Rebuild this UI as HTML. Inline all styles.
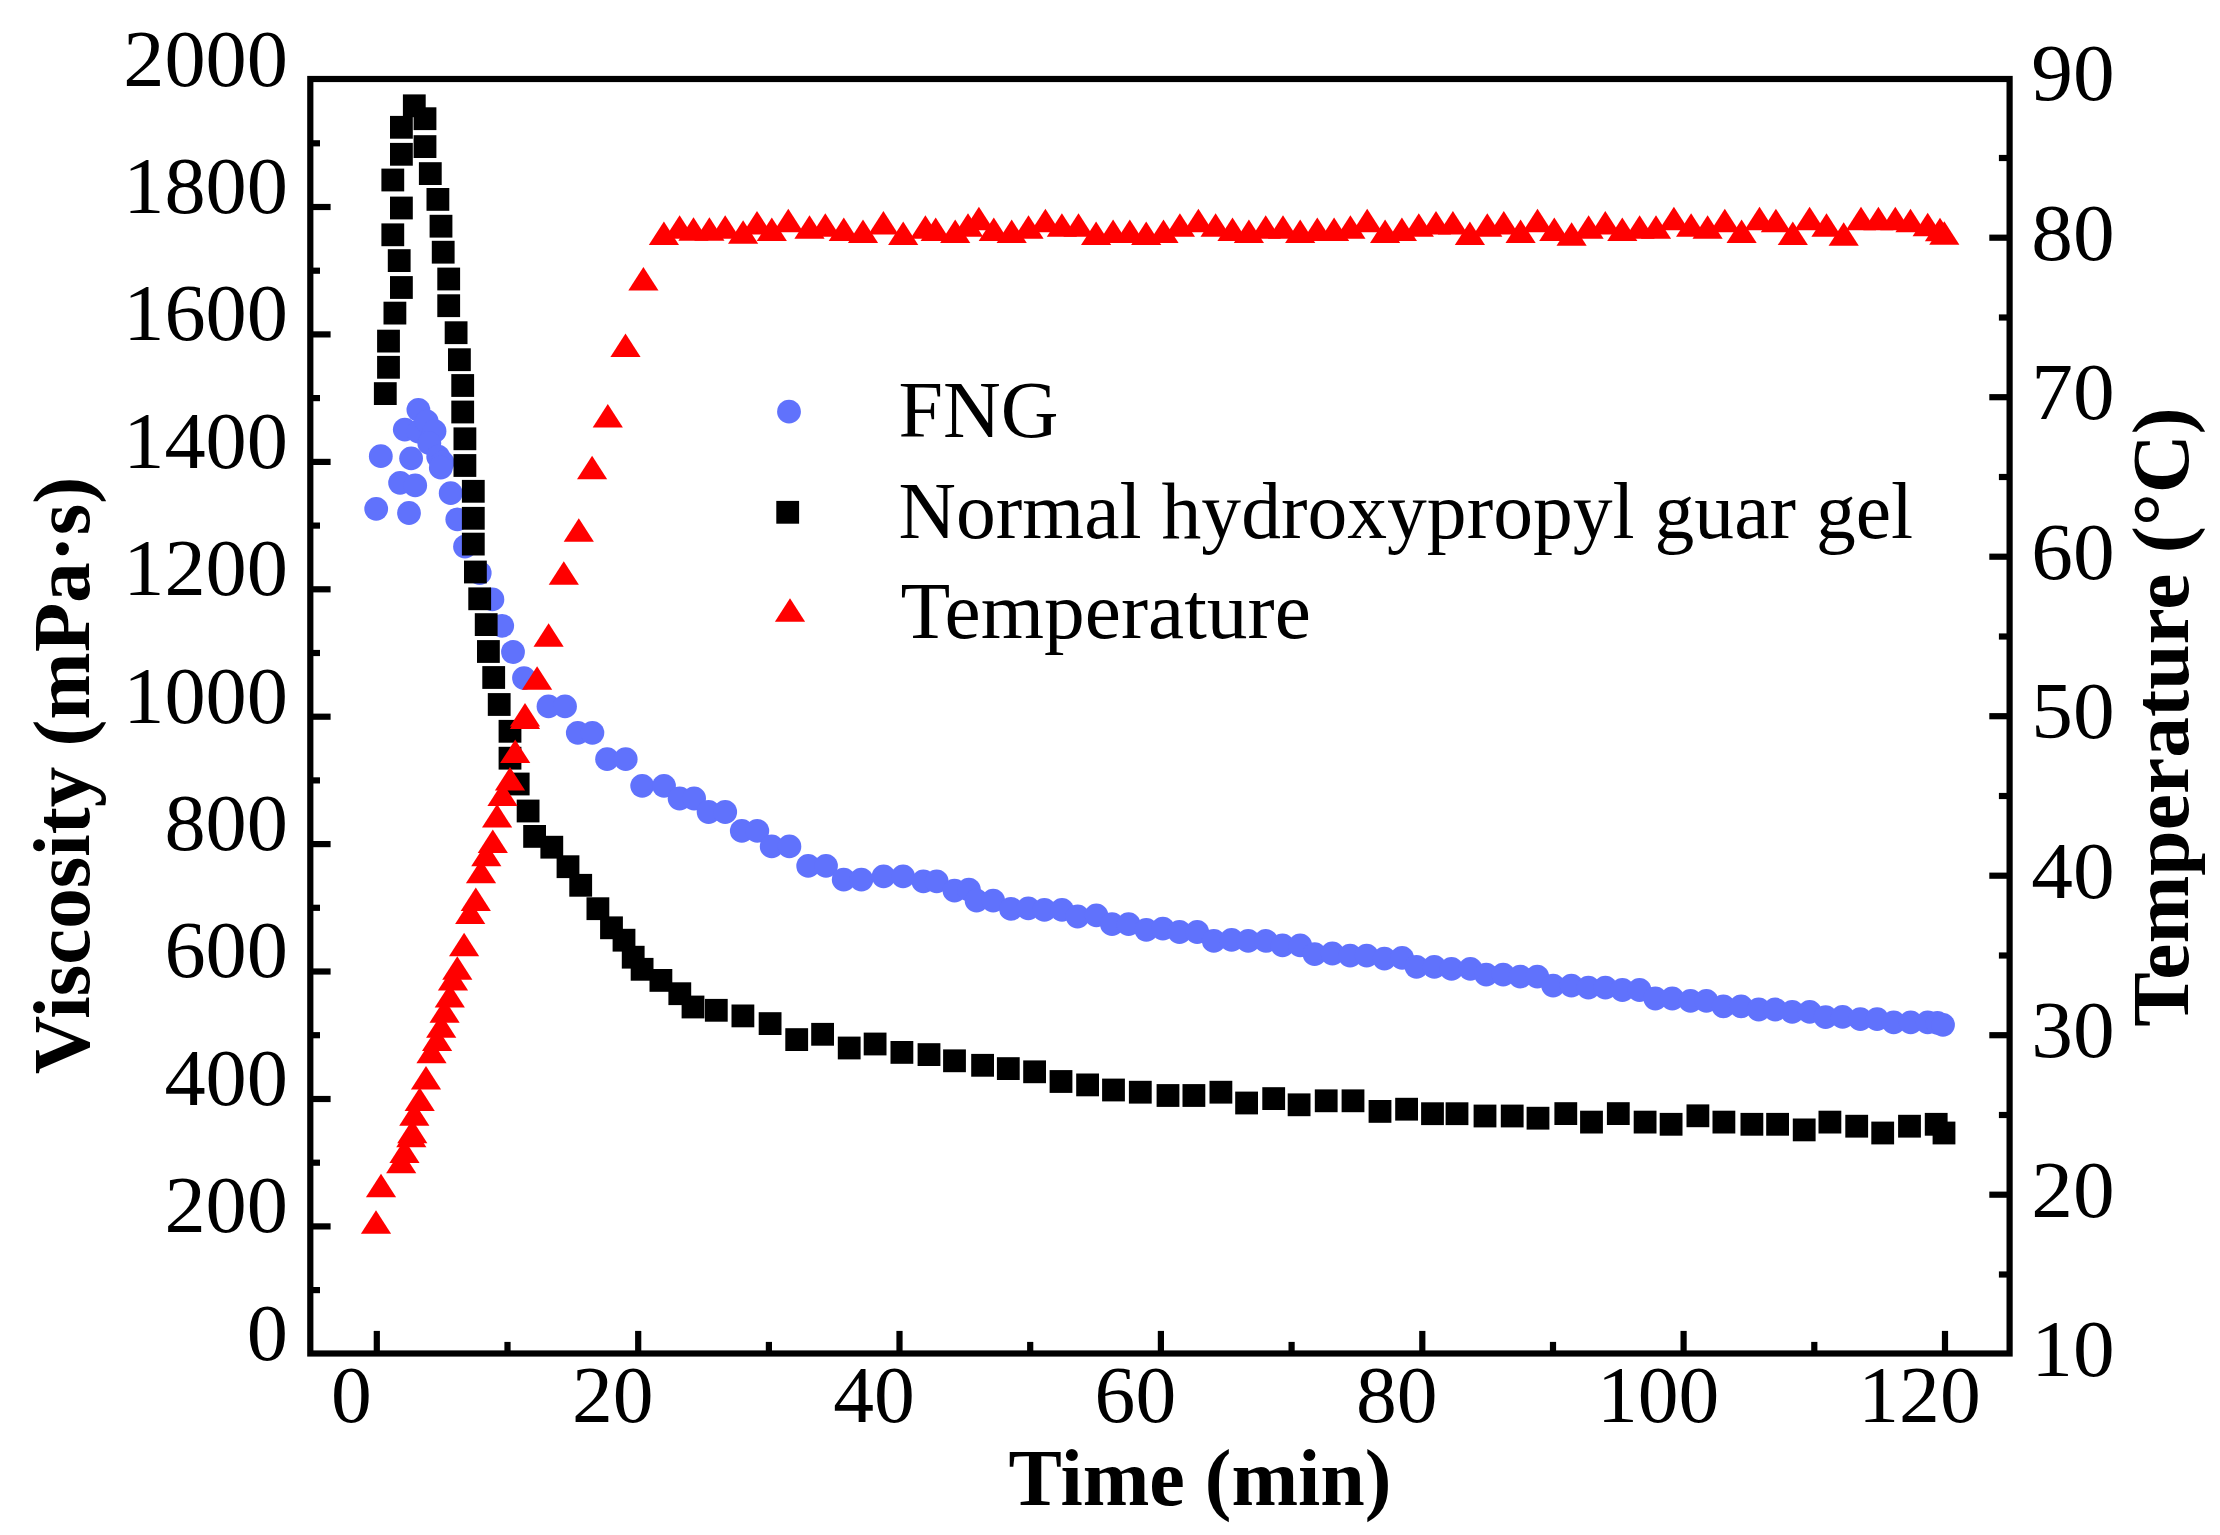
<!DOCTYPE html>
<html lang="en"><head><meta charset="utf-8"><title>Viscosity and temperature vs time</title>
<style>html,body{margin:0;padding:0;background:#fff}body{width:2220px;height:1535px;overflow:hidden}svg{display:block}text{font-family:'Liberation Serif','Times New Roman',Times,serif;fill:#000}.b{font-weight:bold}</style></head><body>
<svg width="2220" height="1535" viewBox="0 0 2220 1535">
<rect width="2220" height="1535" fill="#fff"/>
<g fill="#6072fc">
<circle cx="376.2" cy="508.8" r="11.9"/>
<circle cx="380.8" cy="456.2" r="11.9"/>
<circle cx="400.1" cy="482.8" r="11.9"/>
<circle cx="409.0" cy="513.0" r="11.9"/>
<circle cx="404.8" cy="429.6" r="11.9"/>
<circle cx="411.1" cy="458.3" r="11.9"/>
<circle cx="415.2" cy="485.4" r="11.9"/>
<circle cx="418.4" cy="409.8" r="11.9"/>
<circle cx="418.4" cy="431.7" r="11.9"/>
<circle cx="426.7" cy="421.3" r="11.9"/>
<circle cx="434.5" cy="431.2" r="11.9"/>
<circle cx="429.3" cy="443.2" r="11.9"/>
<circle cx="438.2" cy="456.7" r="11.9"/>
<circle cx="442.5" cy="462.5" r="11.9"/>
<circle cx="440.8" cy="467.7" r="11.9"/>
<circle cx="450.7" cy="493.2" r="11.9"/>
<circle cx="457.3" cy="519.3" r="11.9"/>
<circle cx="465.0" cy="546.6" r="11.9"/>
<circle cx="479.7" cy="573.0" r="11.9"/>
<circle cx="492.4" cy="599.4" r="11.9"/>
<circle cx="502.2" cy="625.8" r="11.9"/>
<circle cx="513.0" cy="652.0" r="11.9"/>
<circle cx="524.0" cy="678.1" r="11.9"/>
<circle cx="548.5" cy="706.4" r="11.9"/>
<circle cx="565.0" cy="706.4" r="11.9"/>
<circle cx="577.8" cy="732.8" r="11.9"/>
<circle cx="592.4" cy="732.8" r="11.9"/>
<circle cx="607.1" cy="759.2" r="11.9"/>
<circle cx="625.7" cy="759.2" r="11.9"/>
<circle cx="642.2" cy="785.8" r="11.9"/>
<circle cx="664.0" cy="785.8" r="11.9"/>
<circle cx="679.6" cy="798.5" r="11.9"/>
<circle cx="694.1" cy="798.5" r="11.9"/>
<circle cx="708.6" cy="812.0" r="11.9"/>
<circle cx="725.2" cy="812.0" r="11.9"/>
<circle cx="741.8" cy="830.9" r="11.9"/>
<circle cx="757.3" cy="830.9" r="11.9"/>
<circle cx="771.7" cy="846.4" r="11.9"/>
<circle cx="789.4" cy="846.4" r="11.9"/>
<circle cx="808.2" cy="865.9" r="11.9"/>
<circle cx="826.0" cy="865.9" r="11.9"/>
<circle cx="843.7" cy="879.6" r="11.9"/>
<circle cx="861.4" cy="879.6" r="11.9"/>
<circle cx="883.6" cy="876.3" r="11.9"/>
<circle cx="903.1" cy="876.3" r="11.9"/>
<circle cx="923.4" cy="881.4" r="11.9"/>
<circle cx="936.7" cy="881.4" r="11.9"/>
<circle cx="954.5" cy="890.7" r="11.9"/>
<circle cx="968.9" cy="889.6" r="11.9"/>
<circle cx="976.6" cy="900.7" r="11.9"/>
<circle cx="993.2" cy="900.7" r="11.9"/>
<circle cx="1011.0" cy="908.9" r="11.9"/>
<circle cx="1028.3" cy="908.3" r="11.9"/>
<circle cx="1044.4" cy="909.8" r="11.9"/>
<circle cx="1062.0" cy="909.8" r="11.9"/>
<circle cx="1077.6" cy="916.5" r="11.9"/>
<circle cx="1096.4" cy="915.4" r="11.9"/>
<circle cx="1112.0" cy="924.2" r="11.9"/>
<circle cx="1128.6" cy="924.2" r="11.9"/>
<circle cx="1146.3" cy="929.8" r="11.9"/>
<circle cx="1162.9" cy="928.7" r="11.9"/>
<circle cx="1179.5" cy="932.0" r="11.9"/>
<circle cx="1197.2" cy="932.0" r="11.9"/>
<circle cx="1213.8" cy="940.9" r="11.9"/>
<circle cx="1231.6" cy="939.8" r="11.9"/>
<circle cx="1248.2" cy="940.9" r="11.9"/>
<circle cx="1265.9" cy="940.9" r="11.9"/>
<circle cx="1282.5" cy="945.3" r="11.9"/>
<circle cx="1300.2" cy="945.3" r="11.9"/>
<circle cx="1314.6" cy="954.2" r="11.9"/>
<circle cx="1332.4" cy="953.5" r="11.9"/>
<circle cx="1350.1" cy="955.7" r="11.9"/>
<circle cx="1366.7" cy="955.7" r="11.9"/>
<circle cx="1384.4" cy="958.6" r="11.9"/>
<circle cx="1402.1" cy="957.9" r="11.9"/>
<circle cx="1416.5" cy="966.8" r="11.9"/>
<circle cx="1434.3" cy="966.8" r="11.9"/>
<circle cx="1451.5" cy="968.9" r="11.9"/>
<circle cx="1470.4" cy="968.8" r="11.9"/>
<circle cx="1486.2" cy="974.7" r="11.9"/>
<circle cx="1503.2" cy="974.7" r="11.9"/>
<circle cx="1520.3" cy="976.6" r="11.9"/>
<circle cx="1537.3" cy="976.6" r="11.9"/>
<circle cx="1553.1" cy="985.6" r="11.9"/>
<circle cx="1571.4" cy="985.6" r="11.9"/>
<circle cx="1588.4" cy="987.6" r="11.9"/>
<circle cx="1605.4" cy="987.6" r="11.9"/>
<circle cx="1622.4" cy="990.0" r="11.9"/>
<circle cx="1639.5" cy="990.0" r="11.9"/>
<circle cx="1655.3" cy="998.5" r="11.9"/>
<circle cx="1672.3" cy="998.5" r="11.9"/>
<circle cx="1690.5" cy="1000.9" r="11.9"/>
<circle cx="1706.4" cy="1000.9" r="11.9"/>
<circle cx="1723.4" cy="1006.3" r="11.9"/>
<circle cx="1741.1" cy="1006.3" r="11.9"/>
<circle cx="1758.7" cy="1009.5" r="11.9"/>
<circle cx="1775.2" cy="1009.5" r="11.9"/>
<circle cx="1792.2" cy="1011.9" r="11.9"/>
<circle cx="1809.7" cy="1011.9" r="11.9"/>
<circle cx="1825.6" cy="1017.2" r="11.9"/>
<circle cx="1842.6" cy="1016.8" r="11.9"/>
<circle cx="1860.3" cy="1019.2" r="11.9"/>
<circle cx="1877.1" cy="1019.2" r="11.9"/>
<circle cx="1893.7" cy="1022.4" r="11.9"/>
<circle cx="1910.7" cy="1022.4" r="11.9"/>
<circle cx="1927.7" cy="1022.4" r="11.9"/>
<circle cx="1937.4" cy="1022.8" r="11.9"/>
<circle cx="1943.0" cy="1024.8" r="11.9"/>
</g>
<g fill="#000">
<rect x="373.9" y="382.2" width="22.8" height="22.8"/>
<rect x="377.1" y="355.9" width="22.8" height="22.8"/>
<rect x="377.1" y="329.7" width="22.8" height="22.8"/>
<rect x="383.5" y="301.7" width="22.8" height="22.8"/>
<rect x="390.0" y="276.1" width="22.8" height="22.8"/>
<rect x="387.8" y="249.2" width="22.8" height="22.8"/>
<rect x="381.4" y="223.4" width="22.8" height="22.8"/>
<rect x="390.0" y="196.6" width="22.8" height="22.8"/>
<rect x="381.4" y="168.6" width="22.8" height="22.8"/>
<rect x="390.0" y="142.9" width="22.8" height="22.8"/>
<rect x="390.0" y="115.9" width="22.8" height="22.8"/>
<rect x="402.9" y="94.4" width="22.8" height="22.8"/>
<rect x="413.6" y="107.3" width="22.8" height="22.8"/>
<rect x="413.6" y="135.2" width="22.8" height="22.8"/>
<rect x="418.9" y="162.2" width="22.8" height="22.8"/>
<rect x="426.5" y="188.0" width="22.8" height="22.8"/>
<rect x="429.6" y="214.8" width="22.8" height="22.8"/>
<rect x="431.8" y="240.8" width="22.8" height="22.8"/>
<rect x="437.3" y="267.6" width="22.8" height="22.8"/>
<rect x="437.3" y="294.3" width="22.8" height="22.8"/>
<rect x="444.7" y="321.3" width="22.8" height="22.8"/>
<rect x="448.0" y="348.3" width="22.8" height="22.8"/>
<rect x="451.3" y="374.1" width="22.8" height="22.8"/>
<rect x="451.3" y="400.6" width="22.8" height="22.8"/>
<rect x="453.5" y="427.4" width="22.8" height="22.8"/>
<rect x="453.5" y="454.1" width="22.8" height="22.8"/>
<rect x="461.9" y="479.9" width="22.8" height="22.8"/>
<rect x="461.9" y="506.9" width="22.8" height="22.8"/>
<rect x="461.9" y="532.7" width="22.8" height="22.8"/>
<rect x="464.0" y="560.6" width="22.8" height="22.8"/>
<rect x="468.3" y="587.4" width="22.8" height="22.8"/>
<rect x="474.8" y="613.2" width="22.8" height="22.8"/>
<rect x="477.0" y="640.1" width="22.8" height="22.8"/>
<rect x="482.3" y="666.1" width="22.8" height="22.8"/>
<rect x="487.8" y="693.1" width="22.8" height="22.8"/>
<rect x="498.6" y="719.9" width="22.8" height="22.8"/>
<rect x="498.6" y="746.8" width="22.8" height="22.8"/>
<rect x="506.8" y="772.6" width="22.8" height="22.8"/>
<rect x="516.7" y="799.6" width="22.8" height="22.8"/>
<rect x="523.2" y="825.0" width="22.8" height="22.8"/>
<rect x="540.4" y="835.8" width="22.8" height="22.8"/>
<rect x="556.6" y="855.3" width="22.8" height="22.8"/>
<rect x="569.3" y="873.9" width="22.8" height="22.8"/>
<rect x="586.5" y="897.3" width="22.8" height="22.8"/>
<rect x="600.1" y="916.4" width="22.8" height="22.8"/>
<rect x="612.6" y="928.8" width="22.8" height="22.8"/>
<rect x="621.8" y="945.8" width="22.8" height="22.8"/>
<rect x="630.7" y="957.9" width="22.8" height="22.8"/>
<rect x="649.5" y="969.0" width="22.8" height="22.8"/>
<rect x="668.4" y="982.3" width="22.8" height="22.8"/>
<rect x="681.6" y="995.6" width="22.8" height="22.8"/>
<rect x="704.9" y="998.9" width="22.8" height="22.8"/>
<rect x="731.5" y="1004.5" width="22.8" height="22.8"/>
<rect x="758.7" y="1012.2" width="22.8" height="22.8"/>
<rect x="785.3" y="1028.2" width="22.8" height="22.8"/>
<rect x="811.2" y="1022.9" width="22.8" height="22.8"/>
<rect x="837.8" y="1036.6" width="22.8" height="22.8"/>
<rect x="863.7" y="1032.6" width="22.8" height="22.8"/>
<rect x="890.5" y="1041.0" width="22.8" height="22.8"/>
<rect x="917.6" y="1043.2" width="22.8" height="22.8"/>
<rect x="943.1" y="1049.4" width="22.8" height="22.8"/>
<rect x="971.2" y="1053.9" width="22.8" height="22.8"/>
<rect x="996.9" y="1057.2" width="22.8" height="22.8"/>
<rect x="1023.2" y="1060.4" width="22.8" height="22.8"/>
<rect x="1049.6" y="1070.1" width="22.8" height="22.8"/>
<rect x="1076.2" y="1073.5" width="22.8" height="22.8"/>
<rect x="1102.1" y="1078.6" width="22.8" height="22.8"/>
<rect x="1128.9" y="1080.8" width="22.8" height="22.8"/>
<rect x="1156.6" y="1084.1" width="22.8" height="22.8"/>
<rect x="1182.5" y="1084.1" width="22.8" height="22.8"/>
<rect x="1209.5" y="1080.8" width="22.8" height="22.8"/>
<rect x="1235.2" y="1091.6" width="22.8" height="22.8"/>
<rect x="1262.3" y="1087.2" width="22.8" height="22.8"/>
<rect x="1287.7" y="1093.4" width="22.8" height="22.8"/>
<rect x="1314.8" y="1089.4" width="22.8" height="22.8"/>
<rect x="1341.6" y="1089.4" width="22.8" height="22.8"/>
<rect x="1368.6" y="1100.0" width="22.8" height="22.8"/>
<rect x="1395.2" y="1097.8" width="22.8" height="22.8"/>
<rect x="1421.1" y="1102.3" width="22.8" height="22.8"/>
<rect x="1445.6" y="1102.3" width="22.8" height="22.8"/>
<rect x="1473.6" y="1104.6" width="22.8" height="22.8"/>
<rect x="1500.8" y="1104.6" width="22.8" height="22.8"/>
<rect x="1526.6" y="1106.8" width="22.8" height="22.8"/>
<rect x="1554.4" y="1102.2" width="22.8" height="22.8"/>
<rect x="1580.1" y="1110.7" width="22.8" height="22.8"/>
<rect x="1606.9" y="1102.2" width="22.8" height="22.8"/>
<rect x="1633.7" y="1110.7" width="22.8" height="22.8"/>
<rect x="1659.7" y="1112.9" width="22.8" height="22.8"/>
<rect x="1686.5" y="1104.4" width="22.8" height="22.8"/>
<rect x="1712.5" y="1110.7" width="22.8" height="22.8"/>
<rect x="1740.5" y="1112.9" width="22.8" height="22.8"/>
<rect x="1766.2" y="1112.9" width="22.8" height="22.8"/>
<rect x="1792.8" y="1118.5" width="22.8" height="22.8"/>
<rect x="1818.5" y="1110.7" width="22.8" height="22.8"/>
<rect x="1845.3" y="1114.8" width="22.8" height="22.8"/>
<rect x="1871.3" y="1121.6" width="22.8" height="22.8"/>
<rect x="1898.1" y="1114.8" width="22.8" height="22.8"/>
<rect x="1924.8" y="1112.9" width="22.8" height="22.8"/>
<rect x="1932.6" y="1121.6" width="22.8" height="22.8"/>
</g>
<g fill="#ff0000">
<path d="M360.9 1233.8L391.1 1233.8L376.0 1210.3Z"/>
<path d="M365.9 1197.3L396.1 1197.3L381.0 1173.8Z"/>
<path d="M386.1 1173.2L416.3 1173.2L401.2 1149.7Z"/>
<path d="M389.4 1162.9L419.6 1162.9L404.5 1139.4Z"/>
<path d="M396.2 1147.2L426.4 1147.2L411.3 1123.7Z"/>
<path d="M397.2 1143.3L427.4 1143.3L412.3 1119.8Z"/>
<path d="M399.2 1125.7L429.4 1125.7L414.3 1102.2Z"/>
<path d="M404.6 1111.0L434.8 1111.0L419.7 1087.5Z"/>
<path d="M410.9 1089.6L441.1 1089.6L426.0 1066.1Z"/>
<path d="M416.4 1063.2L446.6 1063.2L431.5 1039.7Z"/>
<path d="M422.0 1050.9L452.2 1050.9L437.1 1027.4Z"/>
<path d="M426.1 1037.8L456.3 1037.8L441.2 1014.3Z"/>
<path d="M429.5 1022.7L459.7 1022.7L444.6 999.2Z"/>
<path d="M434.7 1007.5L464.9 1007.5L449.8 984.0Z"/>
<path d="M437.9 990.5L468.1 990.5L453.0 967.0Z"/>
<path d="M442.2 979.7L472.4 979.7L457.3 956.2Z"/>
<path d="M449.0 956.3L479.2 956.3L464.1 932.8Z"/>
<path d="M455.1 924.0L485.3 924.0L470.2 900.5Z"/>
<path d="M460.7 911.0L490.9 911.0L475.8 887.5Z"/>
<path d="M465.9 883.3L496.1 883.3L481.0 859.8Z"/>
<path d="M471.2 866.3L501.4 866.3L486.3 842.8Z"/>
<path d="M477.7 853.0L507.9 853.0L492.8 829.5Z"/>
<path d="M482.0 827.6L512.2 827.6L497.1 804.1Z"/>
<path d="M487.4 806.1L517.6 806.1L502.5 782.6Z"/>
<path d="M494.9 790.5L525.1 790.5L510.0 767.0Z"/>
<path d="M500.1 763.1L530.3 763.1L515.2 739.6Z"/>
<path d="M509.9 726.4L540.1 726.4L525.0 702.9Z"/>
<path d="M509.9 728.9L540.1 728.9L525.0 705.4Z"/>
<path d="M522.0 689.8L552.2 689.8L537.1 666.3Z"/>
<path d="M533.5 646.8L563.7 646.8L548.6 623.3Z"/>
<path d="M548.7 584.7L578.9 584.7L563.8 561.2Z"/>
<path d="M563.7 541.7L593.9 541.7L578.8 518.2Z"/>
<path d="M577.0 479.2L607.2 479.2L592.1 455.7Z"/>
<path d="M592.7 427.6L622.9 427.6L607.8 404.1Z"/>
<path d="M610.4 356.9L640.6 356.9L625.5 333.4Z"/>
<path d="M628.3 290.4L658.5 290.4L643.4 266.9Z"/>
<path d="M648.8 245.1L679.0 245.1L663.9 221.6Z"/>
<path d="M664.5 238.8L694.7 238.8L679.6 215.3Z"/>
<path d="M678.4 240.8L708.6 240.8L693.5 217.3Z"/>
<path d="M694.3 240.8L724.5 240.8L709.4 217.3Z"/>
<path d="M710.1 238.8L740.3 238.8L725.2 215.3Z"/>
<path d="M728.0 243.7L758.2 243.7L743.1 220.2Z"/>
<path d="M741.9 234.4L772.1 234.4L757.0 210.9Z"/>
<path d="M756.7 241.1L786.9 241.1L771.8 217.6Z"/>
<path d="M773.2 232.2L803.4 232.2L788.3 208.7Z"/>
<path d="M794.4 238.8L824.6 238.8L809.5 215.3Z"/>
<path d="M810.2 236.8L840.4 236.8L825.3 213.3Z"/>
<path d="M828.7 241.1L858.9 241.1L843.8 217.6Z"/>
<path d="M847.9 243.1L878.1 243.1L863.0 219.6Z"/>
<path d="M868.3 234.4L898.5 234.4L883.4 210.9Z"/>
<path d="M888.1 245.1L918.3 245.1L903.2 221.6Z"/>
<path d="M910.3 238.8L940.5 238.8L925.4 215.3Z"/>
<path d="M920.6 241.1L950.8 241.1L935.7 217.6Z"/>
<path d="M940.1 243.1L970.3 243.1L955.2 219.6Z"/>
<path d="M952.9 236.8L983.1 236.8L968.0 213.3Z"/>
<path d="M963.8 230.2L994.0 230.2L978.9 206.7Z"/>
<path d="M978.7 241.1L1008.9 241.1L993.8 217.6Z"/>
<path d="M996.6 243.1L1026.8 243.1L1011.7 219.6Z"/>
<path d="M1013.4 238.8L1043.6 238.8L1028.5 215.3Z"/>
<path d="M1030.3 232.2L1060.5 232.2L1045.4 208.7Z"/>
<path d="M1046.8 236.8L1077.0 236.8L1061.9 213.3Z"/>
<path d="M1063.4 236.8L1093.6 236.8L1078.5 213.3Z"/>
<path d="M1081.0 245.1L1111.2 245.1L1096.1 221.6Z"/>
<path d="M1098.0 243.1L1128.2 243.1L1113.1 219.6Z"/>
<path d="M1114.7 243.1L1144.9 243.1L1129.8 219.6Z"/>
<path d="M1131.1 245.1L1161.3 245.1L1146.2 221.6Z"/>
<path d="M1148.4 243.1L1178.6 243.1L1163.5 219.6Z"/>
<path d="M1164.8 236.8L1195.0 236.8L1179.9 213.3Z"/>
<path d="M1183.3 232.2L1213.5 232.2L1198.4 208.7Z"/>
<path d="M1200.5 236.8L1230.7 236.8L1215.6 213.3Z"/>
<path d="M1217.4 241.1L1247.6 241.1L1232.5 217.6Z"/>
<path d="M1233.8 243.1L1264.0 243.1L1248.9 219.6Z"/>
<path d="M1250.6 238.8L1280.8 238.8L1265.7 215.3Z"/>
<path d="M1267.9 238.8L1298.1 238.8L1283.0 215.3Z"/>
<path d="M1285.1 243.1L1315.3 243.1L1300.2 219.6Z"/>
<path d="M1302.2 241.1L1332.4 241.1L1317.3 217.6Z"/>
<path d="M1319.0 241.1L1349.2 241.1L1334.1 217.6Z"/>
<path d="M1335.3 238.8L1365.5 238.8L1350.4 215.3Z"/>
<path d="M1352.1 232.2L1382.3 232.2L1367.2 208.7Z"/>
<path d="M1370.0 243.1L1400.2 243.1L1385.1 219.6Z"/>
<path d="M1386.8 241.1L1417.0 241.1L1401.9 217.6Z"/>
<path d="M1403.7 236.8L1433.9 236.8L1418.8 213.3Z"/>
<path d="M1420.9 234.4L1451.1 234.4L1436.0 210.9Z"/>
<path d="M1437.8 234.4L1468.0 234.4L1452.9 210.9Z"/>
<path d="M1454.8 245.1L1485.0 245.1L1469.9 221.6Z"/>
<path d="M1472.2 236.8L1502.4 236.8L1487.3 213.3Z"/>
<path d="M1488.7 234.4L1518.9 234.4L1503.8 210.9Z"/>
<path d="M1505.5 243.1L1535.7 243.1L1520.6 219.6Z"/>
<path d="M1522.4 232.2L1552.6 232.2L1537.5 208.7Z"/>
<path d="M1539.2 241.1L1569.4 241.1L1554.3 217.6Z"/>
<path d="M1556.5 245.7L1586.7 245.7L1571.6 222.2Z"/>
<path d="M1573.5 238.8L1603.7 238.8L1588.6 215.3Z"/>
<path d="M1590.2 234.4L1620.4 234.4L1605.3 210.9Z"/>
<path d="M1607.2 241.1L1637.4 241.1L1622.3 217.6Z"/>
<path d="M1624.5 238.8L1654.7 238.8L1639.6 215.3Z"/>
<path d="M1640.9 238.8L1671.1 238.8L1656.0 215.3Z"/>
<path d="M1658.8 230.2L1689.0 230.2L1673.9 206.7Z"/>
<path d="M1676.0 236.8L1706.2 236.8L1691.1 213.3Z"/>
<path d="M1692.5 238.8L1722.7 238.8L1707.6 215.3Z"/>
<path d="M1709.7 232.2L1739.9 232.2L1724.8 208.7Z"/>
<path d="M1726.5 243.1L1756.7 243.1L1741.6 219.6Z"/>
<path d="M1744.4 230.2L1774.6 230.2L1759.5 206.7Z"/>
<path d="M1760.8 232.2L1791.0 232.2L1775.9 208.7Z"/>
<path d="M1777.7 245.1L1807.9 245.1L1792.8 221.6Z"/>
<path d="M1794.5 230.2L1824.7 230.2L1809.6 206.7Z"/>
<path d="M1811.4 236.8L1841.6 236.8L1826.5 213.3Z"/>
<path d="M1828.6 245.7L1858.8 245.7L1843.7 222.2Z"/>
<path d="M1845.9 230.2L1876.1 230.2L1861.0 206.7Z"/>
<path d="M1863.3 230.2L1893.5 230.2L1878.4 206.7Z"/>
<path d="M1880.2 230.2L1910.4 230.2L1895.3 206.7Z"/>
<path d="M1895.4 232.2L1925.6 232.2L1910.5 208.7Z"/>
<path d="M1912.6 236.3L1942.8 236.3L1927.7 212.8Z"/>
<path d="M1924.9 241.3L1955.1 241.3L1940.0 217.8Z"/>
<path d="M1929.2 244.7L1959.4 244.7L1944.3 221.2Z"/>
</g>
<g stroke="#000" stroke-width="6.2" fill="none" stroke-linecap="butt">
<rect x="310.3" y="79.0" width="1699.3" height="1274.5"/>
<path d="M312.4 1290.1H320.0"/>
<path d="M312.4 1226.4H330.6"/>
<path d="M312.4 1162.7H320.0"/>
<path d="M312.4 1099.0H330.6"/>
<path d="M312.4 1035.2H320.0"/>
<path d="M312.4 971.5H330.6"/>
<path d="M312.4 907.8H320.0"/>
<path d="M312.4 844.1H330.6"/>
<path d="M312.4 780.4H320.0"/>
<path d="M312.4 716.7H330.6"/>
<path d="M312.4 653.0H320.0"/>
<path d="M312.4 589.3H330.6"/>
<path d="M312.4 525.6H320.0"/>
<path d="M312.4 461.9H330.6"/>
<path d="M312.4 398.1H320.0"/>
<path d="M312.4 334.4H330.6"/>
<path d="M312.4 270.7H320.0"/>
<path d="M312.4 207.0H330.6"/>
<path d="M312.4 143.3H320.0"/>
<path d="M2007.5 1274.5H1998.9"/>
<path d="M2007.5 1194.7H1989.3"/>
<path d="M2007.5 1115.0H1998.9"/>
<path d="M2007.5 1035.2H1989.3"/>
<path d="M2007.5 955.5H1998.9"/>
<path d="M2007.5 875.7H1989.3"/>
<path d="M2007.5 796.0H1998.9"/>
<path d="M2007.5 716.2H1989.3"/>
<path d="M2007.5 636.5H1998.9"/>
<path d="M2007.5 556.7H1989.3"/>
<path d="M2007.5 477.0H1998.9"/>
<path d="M2007.5 397.2H1989.3"/>
<path d="M2007.5 317.5H1998.9"/>
<path d="M2007.5 237.7H1989.3"/>
<path d="M2007.5 158.0H1998.9"/>
<path d="M376.8 1351.4V1330.9"/>
<path d="M507.5 1351.4V1341.9"/>
<path d="M638.2 1351.4V1330.9"/>
<path d="M768.9 1351.4V1341.9"/>
<path d="M899.5 1351.4V1330.9"/>
<path d="M1030.2 1351.4V1341.9"/>
<path d="M1160.9 1351.4V1330.9"/>
<path d="M1291.6 1351.4V1341.9"/>
<path d="M1422.3 1351.4V1330.9"/>
<path d="M1553.0 1351.4V1341.9"/>
<path d="M1683.6 1351.4V1330.9"/>
<path d="M1814.3 1351.4V1341.9"/>
<path d="M1945.0 1351.4V1330.9"/>
</g>
<text text-anchor="end" font-size="80" transform="translate(288.0 1359.7) scale(1.0300 1)">0</text>
<text text-anchor="end" font-size="80" transform="translate(288.0 1232.3) scale(1.0300 1)">200</text>
<text text-anchor="end" font-size="80" transform="translate(288.0 1104.9) scale(1.0300 1)">400</text>
<text text-anchor="end" font-size="80" transform="translate(288.0 977.4) scale(1.0300 1)">600</text>
<text text-anchor="end" font-size="80" transform="translate(288.0 850.0) scale(1.0300 1)">800</text>
<text text-anchor="end" font-size="80" transform="translate(288.0 722.6) scale(1.0300 1)">1000</text>
<text text-anchor="end" font-size="80" transform="translate(288.0 595.2) scale(1.0300 1)">1200</text>
<text text-anchor="end" font-size="80" transform="translate(288.0 467.8) scale(1.0300 1)">1400</text>
<text text-anchor="end" font-size="80" transform="translate(288.0 340.3) scale(1.0300 1)">1600</text>
<text text-anchor="end" font-size="80" transform="translate(288.0 212.9) scale(1.0300 1)">1800</text>
<text text-anchor="end" font-size="80" transform="translate(288.0 85.5) scale(1.0300 1)">2000</text>
<text font-size="80" transform="translate(2031.3 1376.4) scale(1.0420 1)">10</text>
<text font-size="80" transform="translate(2031.3 1216.9) scale(1.0420 1)">20</text>
<text font-size="80" transform="translate(2031.3 1057.4) scale(1.0420 1)">30</text>
<text font-size="80" transform="translate(2031.3 897.9) scale(1.0420 1)">40</text>
<text font-size="80" transform="translate(2031.3 738.4) scale(1.0420 1)">50</text>
<text font-size="80" transform="translate(2031.3 578.9) scale(1.0420 1)">60</text>
<text font-size="80" transform="translate(2031.3 419.4) scale(1.0420 1)">70</text>
<text font-size="80" transform="translate(2031.3 259.9) scale(1.0420 1)">80</text>
<text font-size="80" transform="translate(2031.3 100.4) scale(1.0420 1)">90</text>
<text text-anchor="middle" font-size="80" transform="translate(351.3 1422.0) scale(1.0200 1)">0</text>
<text text-anchor="middle" font-size="80" transform="translate(612.7 1422.0) scale(1.0200 1)">20</text>
<text text-anchor="middle" font-size="80" transform="translate(874.0 1422.0) scale(1.0200 1)">40</text>
<text text-anchor="middle" font-size="80" transform="translate(1135.4 1422.0) scale(1.0200 1)">60</text>
<text text-anchor="middle" font-size="80" transform="translate(1396.8 1422.0) scale(1.0200 1)">80</text>
<text text-anchor="middle" font-size="80" transform="translate(1658.1 1422.0) scale(1.0200 1)">100</text>
<text text-anchor="middle" font-size="80" transform="translate(1919.5 1422.0) scale(1.0200 1)">120</text>
<text class="b" text-anchor="middle" font-size="80" transform="translate(1200.0 1504.5)">Time (min)</text>
<text class="b" text-anchor="middle" font-size="80" transform="translate(89.0 775.5) rotate(-90) scale(1.0125 1)">Viscosity (mPa·s)</text>
<text class="b" text-anchor="middle" font-size="80" transform="translate(2187.5 717.0) rotate(-90) scale(1.0200 1)">Temperature (°C)</text>
<circle cx="789" cy="411.7" r="11.9" fill="#6072fc"/>
<rect x="776.3" y="500.9" width="22.8" height="22.8" fill="#000"/>
<path d="M774.9 621.7L805.1 621.7L790 598.2Z" fill="#ff0000"/>
<text font-size="80" transform="translate(898.5 436.7)">FNG</text>
<text font-size="80" transform="translate(898.5 538.3) scale(0.9950 1)">Normal hydroxypropyl guar gel</text>
<text font-size="80" transform="translate(900.5 637.7) scale(1.0180 1)">Temperature</text>
</svg></body></html>
